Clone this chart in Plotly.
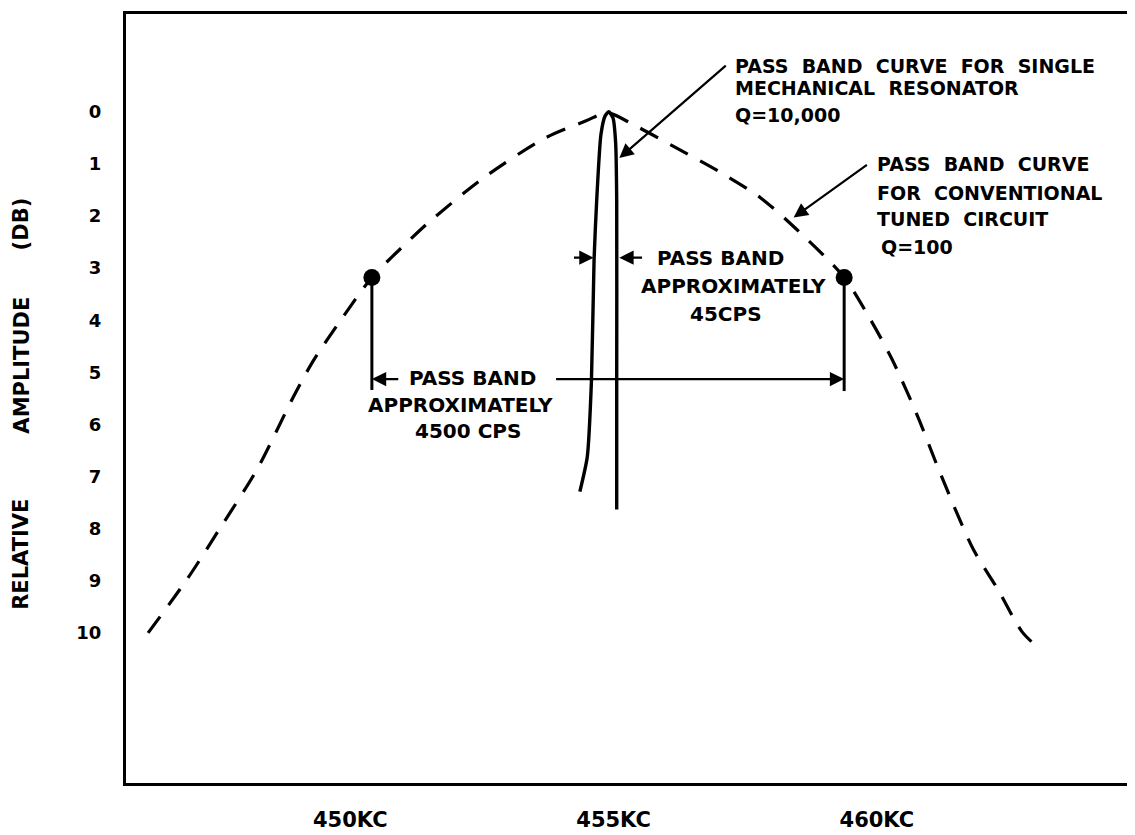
import plotly.graph_objects as go

# ---- data (frequency in kc, attenuation in dB) ----
conv_freq = [446.16, 446.92, 447.52, 448.23, 448.91, 449.29, 449.86, 450.41, 451.13, 451.47,
             452.53, 453.69, 454.49, 454.88, 455.38, 456.20, 456.99, 457.79, 458.49, 459.38,
             459.84, 460.28, 460.77, 461.21, 461.83, 462.29, 462.76, 463.05]
conv_db = [10.0, 8.94, 8.0, 6.86, 5.49, 4.79, 3.94, 3.18, 2.46, 2.14,
           1.27, 0.51, 0.17, 0.02, 0.25, 0.70, 1.14, 1.65, 2.27, 3.18,
           3.92, 4.73, 5.83, 6.95, 8.39, 9.15, 9.98, 10.27]

mech_freq = [454.36, 454.50, 454.58, 454.63, 454.68, 454.76, 454.84, 454.91, 454.99,
             455.04, 455.06, 455.06, 455.06]
mech_db = [7.29, 6.63, 5.17, 2.84, 1.70, 0.44, 0.08, 0.0, 0.12, 0.60, 1.70, 5.17, 7.63]

dot_freq = [450.41, 459.38]
dot_db = [3.18, 3.18]
drop_bottom_db = [5.34, 5.36]

y_ticks = list(range(0, 11))
y_ticktext = [str(v) for v in y_ticks]
x_ticks = [450, 455, 460]
x_ticktext = ["450KC", "455KC", "460KC"]

FONT = "DejaVu Sans"
BLACK = "#000000"

fig = go.Figure()

fig.add_trace(go.Scatter(x=conv_freq, y=conv_db, mode="lines",
                         line=dict(color=BLACK, width=3.2, dash="20px,14px", shape="spline", smoothing=0.8),
                         hoverinfo="skip", showlegend=False))
fig.add_trace(go.Scatter(x=mech_freq, y=mech_db, mode="lines",
                         line=dict(color=BLACK, width=3.4, shape="spline", smoothing=0.6),
                         hoverinfo="skip", showlegend=False))
# vertical drop lines from the -3 dB points
for fx, d0, d1 in zip(dot_freq, dot_db, drop_bottom_db):
    fig.add_trace(go.Scatter(x=[fx, fx], y=[d0, d1], mode="lines",
                             line=dict(color=BLACK, width=3), hoverinfo="skip", showlegend=False))
fig.add_trace(go.Scatter(x=dot_freq, y=dot_db, mode="markers",
                         marker=dict(color=BLACK, size=17), hoverinfo="skip", showlegend=False))

annotations = []

def arrow(x, y, ax, ay, width=2.2, size=1.3):
    annotations.append(dict(x=x, y=y, ax=ax, ay=ay, xref="x", yref="y", axref="x", ayref="y",
                            text="", showarrow=True, arrowhead=2, arrowsize=size,
                            arrowwidth=width, arrowcolor=BLACK, standoff=0, startstandoff=0))

def label(x, y, text, size=20, xanchor="left"):
    annotations.append(dict(x=x, y=y, xref="x", yref="y", text=text, showarrow=False,
                            xanchor=xanchor, yanchor="middle",
                            font=dict(family=FONT, size=size, color=BLACK, weight="bold")))

# pass band 4500 cps dimension arrows
arrow(dot_freq[1], 5.13, 453.88, 5.13)
arrow(dot_freq[0], 5.13, 450.94, 5.13)
# pass band 45 cps arrows
arrow(454.62, 2.80, 454.22, 2.80)
arrow(455.11, 2.80, 455.57, 2.80)
# pointer arrows
arrow(455.11, 0.89, 457.16, -0.91)
arrow(458.42, 2.03, 459.84, 1.0)

label(457.26, -0.87, "PASS  BAND  CURVE  FOR  SINGLE", size=19)
label(457.26, -0.45, "MECHANICAL  RESONATOR", size=19)
label(457.26, 0.06, "Q=10,000", size=19)

label(459.97, 1.0, "PASS  BAND  CURVE", size=19)
label(459.97, 1.55, "FOR  CONVENTIONAL", size=19)
label(459.97, 2.05, "TUNED  CIRCUIT", size=19)
label(460.05, 2.59, "Q=100", size=19)

label(455.78, 2.80, "PASS BAND", size=20)
label(457.28, 3.35, "APPROXIMATELY", size=20, xanchor="center")
label(457.13, 3.88, "45CPS", size=20, xanchor="center")

label(451.07, 5.11, "PASS BAND", size=20)
label(452.10, 5.63, "APPROXIMATELY", size=20, xanchor="center")
label(452.23, 6.12, "4500 CPS", size=20, xanchor="center")

# rotated y-axis title words
for word, ypos in [("RELATIVE", 8.5), ("AMPLITUDE", 4.87), ("(DB)", 2.16)]:
    annotations.append(dict(x=-0.1046, y=ypos, xref="paper", yref="y", text=word,
                            showarrow=False, textangle=-90, xanchor="center", yanchor="middle",
                            font=dict(family=FONT, size=21, color=BLACK, weight="bold")))

fig.update_layout(
    width=1127, height=827,
    margin=dict(l=118, r=5, t=3, b=45),
    paper_bgcolor="white", plot_bgcolor="white",
    annotations=annotations,
    xaxis=dict(range=[445.74, 464.79], showgrid=False, zeroline=False,
               showline=True, mirror=True, linecolor=BLACK, linewidth=3,
               tickmode="array", tickvals=x_ticks, ticktext=x_ticktext, ticks="",
               ticklabelstandoff=16,
               tickfont=dict(family=FONT, size=21, color=BLACK, weight="bold")),
    yaxis=dict(range=[12.88, -1.875], showgrid=False, zeroline=False,
               showline=True, mirror=True, linecolor=BLACK, linewidth=3,
               tickmode="array", tickvals=y_ticks, ticktext=y_ticktext, ticks="",
               ticklabelstandoff=18,
               tickfont=dict(family=FONT, size=18, color=BLACK, weight="bold")),
)

fig.write_html("out.html")
